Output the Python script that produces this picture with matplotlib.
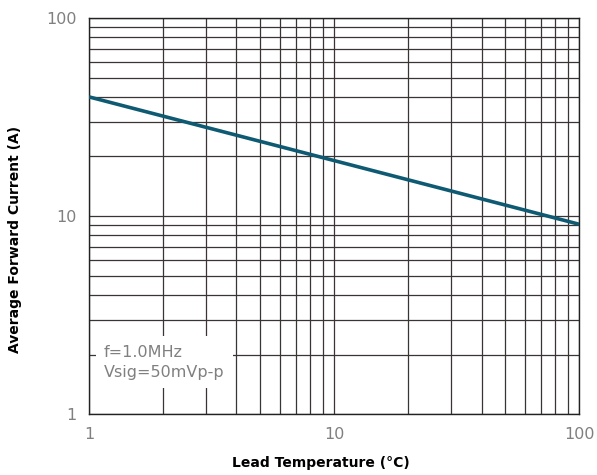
import matplotlib.pyplot as plt
from matplotlib.ticker import FixedLocator, NullFormatter

# data
temp = [1, 100]
current = [40, 9.1]
xticks = [1, 10, 100]
yticks = [1, 10, 100]
xlabels = ['1', '10', '100']
ylabels = ['1', '10', '100']

fig = plt.figure(figsize=(5.97, 4.75), dpi=100)
ax = fig.add_axes([0.149, 0.128, 0.821, 0.834])

ax.set_xscale('log')
ax.set_yscale('log')
ax.set_xlim(1, 100)
ax.set_ylim(1, 100)

ax.plot(temp, current, color='#0f5a73', lw=2.6, solid_capstyle='butt', zorder=4)

ax.xaxis.set_major_locator(FixedLocator(xticks))
ax.yaxis.set_major_locator(FixedLocator(yticks))
ax.set_xticklabels(xlabels)
ax.set_yticklabels(ylabels)
ax.xaxis.set_minor_formatter(NullFormatter())
ax.yaxis.set_minor_formatter(NullFormatter())
ax.grid(True, which='both', color='#3a3434', lw=0.9)
ax.tick_params(which='both', length=0, colors='#808080', labelsize=11.5, pad=9)
for s in ax.spines.values():
    s.set_color('#222222')
    s.set_linewidth(1.0)

ax.text(1.15, 1.83, 'f=1.0MHz\nVsig=50mVp-p', fontsize=11.5, color='#808080',
        linespacing=1.45, va='center', ha='left', zorder=5,
        bbox=dict(facecolor='white', edgecolor='none', pad=6))

ax.set_xlabel('Lead Temperature (°C)', fontsize=10, fontweight='bold')
ax.set_ylabel('Average Forward Current (A)', fontsize=10, fontweight='bold')
ax.xaxis.set_label_coords(0.473, -0.124)
ax.yaxis.set_label_coords(-0.151, 0.442)
ax.xaxis.label.set_va('center')
ax.yaxis.label.set_va('center')

fig.savefig('out.png', dpi=100)
